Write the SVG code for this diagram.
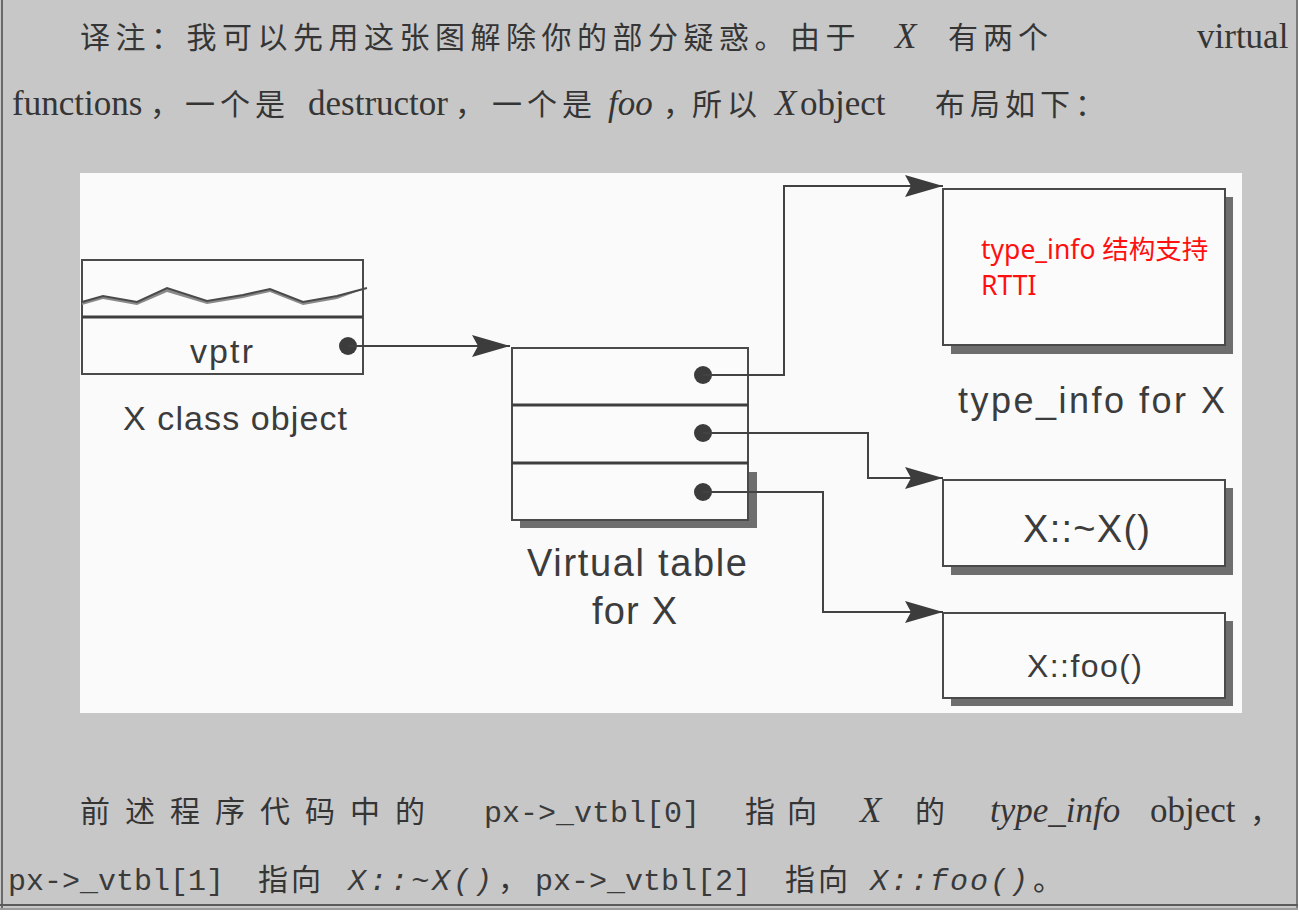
<svg xmlns="http://www.w3.org/2000/svg" width="1300" height="914" viewBox="0 0 1300 914">
<defs>
<marker id="arr" viewBox="0 0 38 24" refX="38" refY="12" markerWidth="38" markerHeight="24" markerUnits="userSpaceOnUse" orient="auto">
<path d="M0,1 L38,12 L0,23 L6,12 Z" fill="#3c3c3c"/>
</marker>
<style>
.cn{font-family:"Liberation Serif","Noto Sans CJK SC",serif;font-size:30px;fill:#353535}
.en{font-family:"Liberation Serif","Noto Sans CJK SC",serif;font-size:35px;fill:#353535}
.it{font-style:italic}
.mono{font-family:"Liberation Mono","Noto Sans CJK SC",monospace;font-size:30px;fill:#3a3a3a}
.lbl{font-family:"Liberation Sans",Arial,sans-serif;fill:#3c3c3c}
.box{fill:#fbfbfb;stroke:#4a4a4a;stroke-width:2}
.shadow{fill:#6e6e6e}
.con{fill:none;stroke:#424242;stroke-width:2}
.dot{fill:#3c3c3c}
.red{font-family:"Noto Sans","Noto Sans CJK SC",sans-serif;font-size:26.5px;fill:#ff1010}
</style>
</defs>
<rect x="0" y="0" width="1300" height="914" fill="#ffffff"/>
<rect x="0" y="0" width="1298" height="908" fill="#c7c7c7"/>
<line x1="2" y1="0" x2="2" y2="908" stroke="#6a6a6a" stroke-width="2"/>
<line x1="1297" y1="0" x2="1297" y2="908" stroke="#7a7a7a" stroke-width="2"/>
<line x1="0" y1="905" x2="1298" y2="905" stroke="#5a5a5a" stroke-width="2"/>
<line x1="0" y1="909" x2="1298" y2="909" stroke="#7a7a7a" stroke-width="1.5"/>

<g id="para-top">
<text class="cn" x="80" y="48" letter-spacing="5.5">译注：我可以先用这张图解除你的部分疑惑。由于</text>
<text class="en it" x="895" y="48">X</text>
<text class="cn" x="948" y="48" letter-spacing="5">有两个</text>
<text class="en" x="1197" y="48">virtual</text>
<text class="en" x="12" y="115">functions</text>
<text class="cn" x="150" y="115">，</text>
<text class="cn" x="185" y="115" letter-spacing="5">一个是</text>
<text class="en" x="308" y="115">destructor</text>
<text class="cn" x="455" y="115">，</text>
<text class="cn" x="492" y="115" letter-spacing="5">一个是</text>
<text class="en it" x="608" y="115">foo</text>
<text class="cn" x="663" y="115">，</text>
<text class="cn" x="692" y="115" letter-spacing="5">所以</text>
<text class="en it" x="775" y="115">X</text>
<text class="en" x="800" y="115">object</text>
<text class="cn" x="935" y="115" letter-spacing="5">布局如下：</text>
</g>

<rect x="80" y="173" width="1162" height="540" fill="#fafafa"/>

<g id="x-class-object">
<rect class="box" x="82" y="260" width="281" height="114"/>
<line x1="82" y1="317" x2="363" y2="317" stroke="#3e3e3e" stroke-width="3"/>
<polygon points="82,302 103,296 137,302 167,288 207,301 243,295 270,289 303,302 337,296 367,288 337,299 303,305 270,292 243,298 207,304 167,292 137,305 103,299 82,305" fill="#8a8a8a"/>
<polyline points="82,302 103,296 137,302 167,288 207,301 243,295 270,289 303,302 337,296 367,288" fill="none" stroke="#4a4a4a" stroke-width="2"/>
<text class="lbl" x="190" y="363" font-size="34" textLength="63">vptr</text>
<circle class="dot" cx="348" cy="346" r="9"/>
<text class="lbl" x="123" y="430" font-size="34" textLength="224">X class object</text>
</g>

<g id="vtable">
<rect class="shadow" x="520" y="472" width="237" height="56"/>
<rect class="box" x="512" y="348" width="236" height="172"/>
<line x1="512" y1="405" x2="748" y2="405" stroke="#3e3e3e" stroke-width="3"/>
<line x1="512" y1="463" x2="748" y2="463" stroke="#3e3e3e" stroke-width="3"/>
<circle class="dot" cx="703" cy="375" r="9"/>
<circle class="dot" cx="703" cy="433" r="9"/>
<circle class="dot" cx="703" cy="492" r="9"/>
<text class="lbl" x="527" y="576" font-size="38" textLength="220">Virtual table</text>
<text class="lbl" x="592" y="624" font-size="38" textLength="85">for X</text>
</g>

<g id="type-info">
<rect class="shadow" x="951" y="197" width="282" height="157"/>
<rect class="box" x="943" y="189" width="282" height="156"/>
<text class="red" x="981" y="259">type_info 结构支持</text>
<text class="red" x="981" y="295">RTTI</text>
<text class="lbl" x="958" y="413" font-size="36" textLength="267">type_info for X</text>
</g>

<g id="dtor">
<rect class="shadow" x="951" y="488" width="282" height="87"/>
<rect class="box" x="943" y="480" width="282" height="86"/>
<text class="lbl" x="1023" y="542" font-size="38" textLength="127">X::~X()</text>
</g>

<g id="foo">
<rect class="shadow" x="951" y="621" width="282" height="85"/>
<rect class="box" x="943" y="613" width="282" height="85"/>
<text class="lbl" x="1027" y="677" font-size="32" textLength="115">X::foo()</text>
</g>

<g id="connectors">
<path class="con" d="M348,346 H510" marker-end="url(#arr)"/>
<path class="con" d="M703,375 H784 V186 H943" marker-end="url(#arr)"/>
<path class="con" d="M703,433 H868 V478 H943" marker-end="url(#arr)"/>
<path class="con" d="M703,492 H823 V612 H943" marker-end="url(#arr)"/>
</g>

<g id="para-bottom">
<text class="cn" x="80" y="822" letter-spacing="15">前述程序代码中的</text>
<text class="mono" x="484" y="822">px-&gt;_vtbl[0]</text>
<text class="cn" x="745" y="822" letter-spacing="12">指向</text>
<text class="en it" x="860" y="822">X</text>
<text class="cn" x="915" y="822">的</text>
<text class="en it" x="990" y="822">type_info</text>
<text class="en" x="1150" y="822">object</text>
<text class="cn" x="1250" y="822">，</text>
<text class="mono" x="8" y="890">px-&gt;_vtbl[1]</text>
<text class="cn" x="258" y="890" letter-spacing="3">指向</text>
<text class="mono it" x="348" y="890" letter-spacing="3">X::~X()</text>
<text class="cn" x="498" y="890">，</text>
<text class="mono" x="535" y="890">px-&gt;_vtbl[2]</text>
<text class="cn" x="785" y="890" letter-spacing="3">指向</text>
<text class="mono it" x="870" y="890" letter-spacing="2">X::foo()</text>
<text class="cn" x="1033" y="890">。</text>
</g>
</svg>
